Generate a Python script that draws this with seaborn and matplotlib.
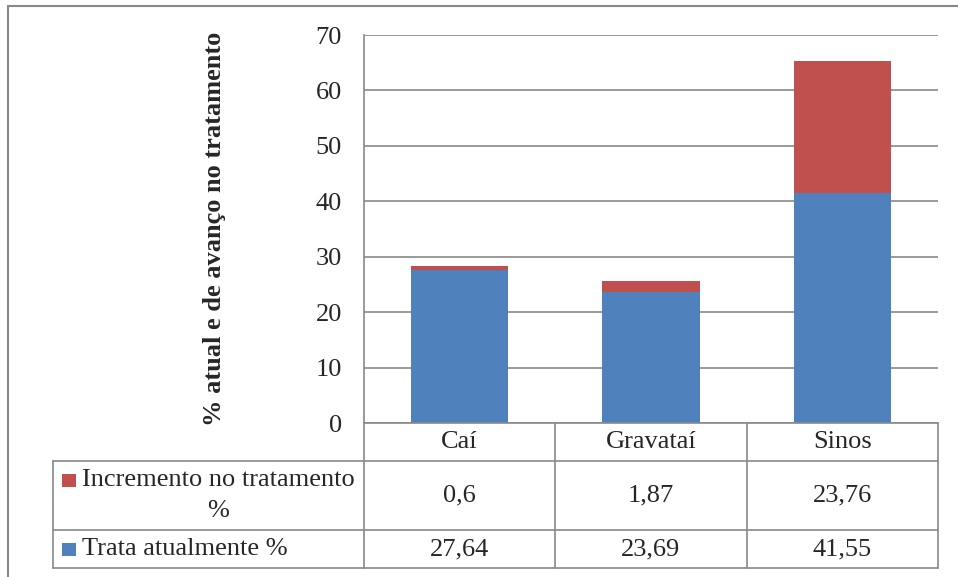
import matplotlib
matplotlib.use("Agg")
import matplotlib.pyplot as plt
import matplotlib.transforms as mtransforms
from matplotlib.lines import Line2D
from matplotlib.patches import Rectangle
import pandas as pd
import seaborn as sns

# data
categories = ["Caí", "Gravataí", "Sinos"]
trata_atual = [27.64, 23.69, 41.55]
incremento = [0.6, 1.87, 23.76]
serie_labels = ["Incremento no tratamento\n%", "Trata atualmente %"]
y_ticks = [0, 10, 20, 30, 40, 50, 60, 70]

blue = "#4F81BD"
red = "#C0504D"
gray = "#898989"
FS = 19

sns.set_style("white")
plt.rcParams["font.family"] = ["Liberation Serif", "DejaVu Serif"]

df = pd.DataFrame({
    "bacia": categories,
    "atual": trata_atual,
    "total": [a + b for a, b in zip(trata_atual, incremento)],
})

W, H = 958, 577
fig = plt.figure(figsize=(W / 100, H / 100), dpi=100)


def fx(x):
    return x / W


def fy(y):
    return 1 - y / H


ax = fig.add_axes([fx(364), fy(423), fx(938) - fx(364), fy(35) - fy(423)])

# stacked bars: total (red) then current (blue) on top
sns.barplot(data=df, x="bacia", y="total", color=red, width=0.51,
            linewidth=0, saturation=1, ax=ax)
sns.barplot(data=df, x="bacia", y="atual", color=blue, width=0.51,
            linewidth=0, saturation=1, ax=ax)

ax.set_ylim(0, 70)
ax.set_xlim(-0.5, len(categories) - 0.5)
ax.set_yticks(y_ticks)
ax.set_yticklabels([str(t) for t in y_ticks], fontsize=FS)
ax.tick_params(axis="y", length=0, pad=16)
ax.set_xticks([])
ax.set_xlabel("")
ax.set_ylabel("")
ax.yaxis.grid(True, color=gray, linewidth=1.2)
ax.set_axisbelow(True)
for s in ["top", "right", "bottom"]:
    ax.spines[s].set_visible(False)
ax.spines["left"].set_color(gray)
ax.spines["left"].set_linewidth(1.2)

fig.text(fx(215), fy(229), "% atual e de avanço no tratamento", rotation=90,
         fontsize=FS, fontweight="bold", ha="center", va="center")

# data table under the chart
tr = mtransforms.blended_transform_factory(ax.transData, fig.transFigure)
n = len(categories)
lw = 1.2
# horizontal lines
for y in [423, 461, 530, 568]:
    x0 = fx(364) if y == 423 else fx(53)
    fig.add_artist(Line2D([x0, fx(938)], [fy(y), fy(y)], color=gray, lw=lw))
# vertical lines
for i in range(n + 1):
    fig.add_artist(Line2D([i - 0.5, i - 0.5], [fy(423), fy(568)],
                          color=gray, lw=lw, transform=tr))
fig.add_artist(Line2D([fx(53), fx(53)], [fy(461), fy(568)], color=gray, lw=lw))

for i, cat in enumerate(categories):
    fig.text(i, fy(442), cat, transform=tr, ha="center", va="center", fontsize=FS)
    fig.text(i, fy(495), f"{incremento[i]:g}".replace(".", ","), transform=tr,
             ha="center", va="center", fontsize=FS)
    fig.text(i, fy(549), f"{trata_atual[i]:g}".replace(".", ","), transform=tr,
             ha="center", va="center", fontsize=FS)

# legend keys in table
fig.add_artist(Rectangle((fx(62), fy(487)), fx(14), fy(474) - fy(487),
                         color=red, lw=0))
fig.add_artist(Rectangle((fx(62), fy(556)), fx(14), fy(543) - fy(556),
                         color=blue, lw=0))
fig.text(fx(82), fy(480), serie_labels[0].split("\n")[0], ha="left", va="center", fontsize=FS)
fig.text(fx(218), fy(511), serie_labels[0].split("\n")[1], ha="center", va="center", fontsize=FS)
fig.text(fx(82), fy(549), serie_labels[1], ha="left", va="center", fontsize=FS)

# outer frame (top and left)
fig.add_artist(Line2D([fx(8), fx(958)], [fy(5.5), fy(5.5)], color=gray, lw=1.5))
fig.add_artist(Line2D([fx(8), fx(8)], [fy(5.5), fy(577)], color=gray, lw=1.5))

fig.savefig("out.png", dpi=100)
